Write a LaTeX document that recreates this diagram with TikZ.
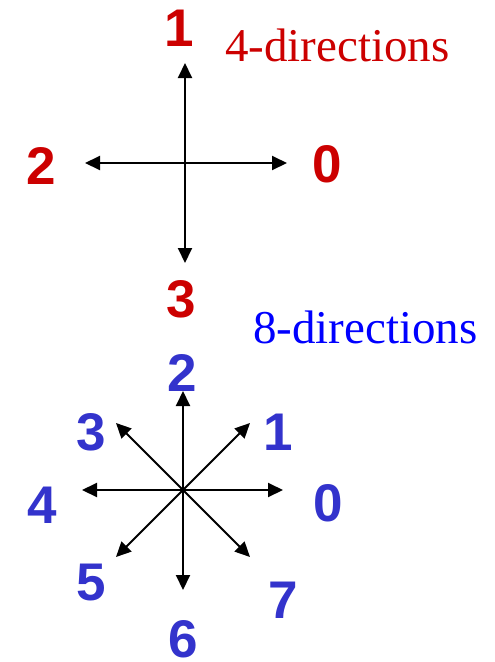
\documentclass[tikz,border=0pt]{standalone}
\usepackage{fontspec}
\setmainfont{Liberation Serif}
\newfontfamily\digitfont{Liberation Sans}
\usetikzlibrary{arrows.meta}
\definecolor{dred}{RGB}{204,0,0}
\definecolor{dblue}{RGB}{51,51,204}
\definecolor{tblue}{RGB}{0,0,255}
\begin{document}
\begin{tikzpicture}[x=1pt,y=-1pt,
  dirarrow/.style={line width=2pt,-{Triangle[length=15pt,width=14pt]}},
  rdig/.style={text=dred,inner sep=0pt,font=\digitfont\bfseries\fontsize{53}{53}\selectfont},
  bdig/.style={text=dblue,inner sep=0pt,font=\digitfont\bfseries\fontsize{53}{53}\selectfont},
  title/.style={inner sep=0pt,anchor=base west,font=\fontsize{47}{47}\selectfont}]
\useasboundingbox (0,0) rectangle (495,662);
% 4 directions
\coordinate (c4) at (185,163);
\coordinate (t0) at (287,163);
\coordinate (t1) at (185,63);
\coordinate (t2) at (85,163);
\coordinate (t3) at (185,263);
\foreach \t in {t0,t1,t2,t3} \draw[dirarrow] (c4) -- (\t);
\node[rdig] (l1) at (179,28) {1};
\node[rdig] (l0) at (327,164) {0};
\node[rdig] (l2) at (41,166) {2};
\node[rdig] (l3) at (181,299) {3};
\node[title,text=dred] (h4) at (225,61) {4-directions};
% 8 directions
\coordinate (c8) at (183,490);
\coordinate (s0) at (283,490);
\coordinate (s1) at (250,423);
\coordinate (s2) at (183,391);
\coordinate (s3) at (116,423);
\coordinate (s4) at (82,490);
\coordinate (s5) at (116,557);
\coordinate (s6) at (183,590);
\coordinate (s7) at (250,557);
\foreach \t in {s0,s1,s2,s3,s4,s5,s6,s7} \draw[dirarrow] (c8) -- (\t);
\node[title,text=tblue] (h8) at (253,343) {8-directions};
\node[bdig] (m0) at (328,503) {0};
\node[bdig] (m1) at (278,432) {1};
\node[bdig] (m2) at (182,373) {2};
\node[bdig] (m3) at (91,432) {3};
\node[bdig] (m4) at (42,505) {4};
\node[bdig] (m5) at (91,583) {5};
\node[bdig] (m6) at (183,639) {6};
\node[bdig] (m7) at (283,600) {7};
\end{tikzpicture}
\end{document}
